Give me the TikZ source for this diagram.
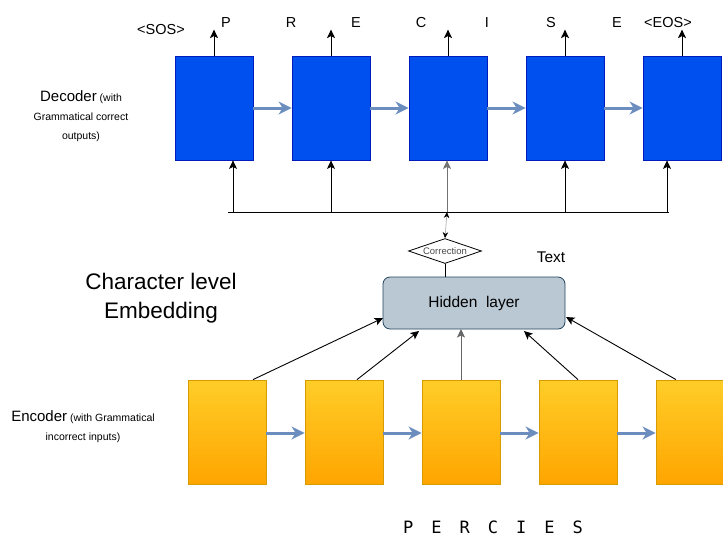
\documentclass[tikz,border=0pt]{standalone}
\usepackage{fontspec}
\setmainfont{Liberation Sans}
\newfontfamily\wordfont{DejaVu Sans Mono}
\usetikzlibrary{arrows.meta,shapes.geometric}
\definecolor{decfill}{HTML}{0050EF}
\definecolor{decdraw}{HTML}{001DBC}
\definecolor{enctop}{HTML}{FFCD28}
\definecolor{encbot}{HTML}{FFA500}
\definecolor{encdraw}{HTML}{D79B00}
\definecolor{hidfill}{HTML}{BAC8D3}
\definecolor{hiddraw}{HTML}{23445D}
\definecolor{flow}{HTML}{6C8EBF}
\tikzset{
  decbox/.style={draw=decdraw,fill=decfill,minimum width=78pt,minimum height=104pt,inner sep=0pt,line width=0.8pt},
  encbox/.style={draw=encdraw,top color=enctop,bottom color=encbot,minimum width=78pt,minimum height=104pt,inner sep=0pt,line width=0.8pt},
  flowarrow/.style={draw=flow,line width=3pt,-{Stealth[length=13pt,width=13pt,inset=4pt]}},
  blk/.style={draw=black,line width=0.9pt,-{Stealth[length=8.5pt,width=8pt,inset=2pt]}},
  lbl/.style={font=\fontsize{14.5}{16}\selectfont,inner sep=0pt},
  sidelbl/.style={align=center,inner sep=0pt,font=\fontsize{10.5}{19}\selectfont},
}
\begin{document}
\begin{tikzpicture}[x=1pt,y=-1pt]
\useasboundingbox (0,0) rectangle (723,539);
% decoder boxes
\foreach \i/\x in {1/214,2/331,3/448,4/565,5/682}{
  \node[decbox] (d\i) at (\x,108) {};
}
\foreach \a/\b in {1/2,2/3,3/4,4/5}{
  \draw[flowarrow] (d\a.east) -- (d\b.west);
}
% outputs
\foreach \i in {1,...,5}{
  \coordinate (o\i) at ([yshift=26pt]d\i.north);
  \draw[blk] (d\i.north) -- (o\i);
}
\node[lbl] (sos) at (161,30) {<SOS>};
\node[lbl] (p) at (226,23) {P};
\node[lbl] (r) at (291,23) {R};
\node[lbl] (e1) at (356,23) {E};
\node[lbl] (c) at (421,23) {C};
\node[lbl] (ii) at (487,23) {I};
\node[lbl] (s) at (551,23) {S};
\node[lbl] (e2) at (617,23) {E};
\node[lbl] (eos) at (668,23) {<EOS>};
% bus
\coordinate (busL) at (228,212);
\coordinate (busR) at (669,212);
\draw[line width=0.9pt] (busL) -- (busR);
\coordinate (b1) at (233,212);
\coordinate (b2) at (331,212);
\coordinate (b3) at (447,212);
\coordinate (b4) at (565,212);
\coordinate (b5) at (667,212);
\draw[blk] (b1) -- (b1 |- d1.south);
\draw[blk] (b2) -- (b2 |- d2.south);
\draw[blk,draw=black!55] (b3) -- (b3 |- d3.south);
\draw[blk] (b4) -- (b4 |- d4.south);
\draw[blk] (b5) -- (b5 |- d5.south);
% correction diamond
\node[draw=black,fill=white,shape=diamond,shape aspect=3,minimum width=73pt,minimum height=25pt,inner sep=0pt,line width=0.8pt,font=\fontsize{9.5}{10}\selectfont,text=black!70] (corr) at (445,251) {Correction};
\draw[draw=black!35,line width=0.6pt,{Stealth[length=6pt,width=5.5pt,black]}-{Stealth[length=6pt,width=5.5pt,black]}] (corr.north) -- (b3);
% hidden layer
\node[draw=hiddraw,fill=hidfill,rounded corners=7pt,minimum width=182pt,minimum height=52pt,inner sep=0pt,line width=0.8pt,font=\fontsize{15.5}{18}\selectfont] (hid) at (474,303) {Hidden~~layer};
\draw[line width=0.8pt] (corr.south) -- (corr.south |- hid.north);
\node[font=\fontsize{15.5}{18}\selectfont,inner sep=0pt] (txt) at (551,257) {Text};
\node[font=\fontsize{22.5}{29}\selectfont,align=center,inner sep=0pt] (cle) at (161,298) {Character level\\Embedding};
% decoder label
\node[sidelbl] (declbl) at (81,116) {{\fontsize{15}{19}\selectfont Decoder} (with\\Grammatical correct\\outputs)};
% encoder boxes
\foreach \i/\x in {1/227,2/344,3/461,4/578,5/695}{
  \node[encbox] (e\i) at (\x,432) {};
}
\foreach \a/\b in {1/2,2/3,3/4,4/5}{
  \draw[flowarrow] (e\a.east |- 0,433) -- (e\b.west |- 0,433);
}
% encoder to hidden
\coordinate (h1) at (383,318);
\coordinate (h2) at (419,331);
\coordinate (h3) at (461,329);
\coordinate (h4) at (524,331);
\coordinate (h5) at (566,317);
\draw[blk] ([xshift=26pt]e1.north) -- (h1);
\draw[blk] ([xshift=13pt]e2.north) -- (h2);
\draw[blk,draw=black!60] (e3.north) -- (h3);
\draw[blk] (e4.north) -- (h4);
\draw[blk] ([xshift=-19pt]e5.north) -- (h5);
% encoder label
\node[sidelbl] (enclbl) at (83,427) {{\fontsize{15}{19}\selectfont Encoder} (with Grammatical\\incorrect inputs)};
% bottom word
\node[font=\wordfont\fontsize{17}{19}\selectfont,inner sep=0pt] (word) at (493,527) {P\hspace{18pt}E\hspace{18pt}R\hspace{18pt}C\hspace{18pt}I\hspace{18pt}E\hspace{18pt}S};
\end{tikzpicture}
\end{document}
